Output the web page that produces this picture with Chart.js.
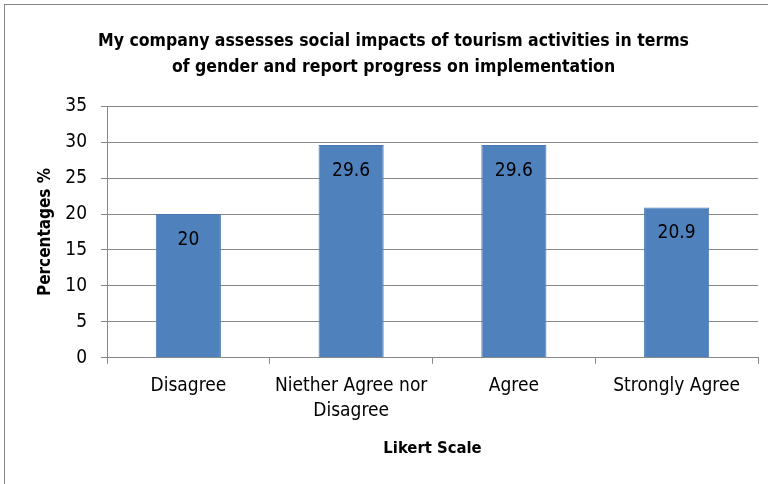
<!DOCTYPE html>
<html>
<head>
<meta charset="utf-8">
<script src="https://cdn.jsdelivr.net/npm/chart.js@4/dist/chart.umd.min.js"></script>
<style>
  html, body { margin:0; padding:0; background:#fff; overflow:hidden; }
  #frame { position:absolute; left:4px; top:4px; width:800px; height:520px; border:1px solid #888; box-sizing:border-box; }
  #wrap { position:absolute; left:0; top:0; width:768px; height:484px; }
</style>
</head>
<body>
<div id="frame"></div>
<div id="wrap"><canvas id="chart" width="768" height="484"></canvas></div>
<script>
// data
const categories = ['Disagree', ['Niether Agree nor', 'Disagree'], 'Agree', 'Strongly Agree'];
const percentages = [20, 29.6, 29.6, 20.9];
const yTicks = [0, 5, 10, 15, 20, 25, 30, 35];

const FONT = "'Liberation Sans Narrow', 'DejaVu Sans Condensed', 'Open Sans', sans-serif";
Chart.defaults.font.family = FONT;
Chart.defaults.color = '#000';

// values drawn inside the bar, a little below its top
const barValues = {
  id: 'barValues',
  afterDatasetsDraw(chart) {
    const ctx = chart.ctx;
    const meta = chart.getDatasetMeta(0);
    ctx.save();
    ctx.font = '19px ' + FONT;
    ctx.fillStyle = '#000';
    ctx.textAlign = 'center';
    ctx.textBaseline = 'middle';
    meta.data.forEach((bar, i) => {
      ctx.fillText(String(percentages[i]), bar.x, bar.y + 26);
    });
    ctx.restore();
  }
};

new Chart(document.getElementById('chart'), {
  type: 'bar',
  data: {
    labels: categories,
    datasets: [{
      data: percentages,
      backgroundColor: '#4F81BD',
      borderColor: '#4A7AB3',
      borderWidth: 1,
      barPercentage: 0.4,
      categoryPercentage: 1
    }]
  },
  options: {
    responsive: false,
    animation: false,
    layout: { padding: { left: 29, right: 10, top: 0, bottom: 21 } },
    plugins: {
      legend: { display: false },
      tooltip: { enabled: false },
      title: {
        display: true,
        text: ['My company assesses social impacts of tourism activities in terms', 'of gender and report progress on implementation'],
        font: { size: 17.5, weight: 'bold', lineHeight: 1.49 },
        color: '#000',
        padding: { top: 28, bottom: 26 }
      }
    },
    scales: {
      x: {
        offset: true,
        grid: { display: true, drawOnChartArea: false, drawTicks: true, tickLength: 6, offset: true, color: '#888' },
        border: { color: '#888' },
        ticks: { font: { size: 19, lineHeight: 1.3 }, maxRotation: 0, autoSkip: false, padding: 10 },
        title: { display: true, text: 'Likert Scale', font: { size: 16.5, weight: 'bold' }, padding: { top: 6, bottom: 4 } }
      },
      y: {
        min: 0, max: 35,
        afterBuildTicks: axis => { axis.ticks = yTicks.map(v => ({ value: v })); },
        afterFit: axis => { axis.width = 78; },
        grid: { color: '#888', tickLength: 6 },
        border: { color: '#888' },
        ticks: { font: { size: 19 }, padding: 14 },
        title: { display: true, text: 'Percentages %', font: { size: 17, weight: 'bold' }, padding: { top: 6, bottom: 0 } }
      }
    }
  },
  plugins: [barValues]
});
</script>
</body>
</html>
